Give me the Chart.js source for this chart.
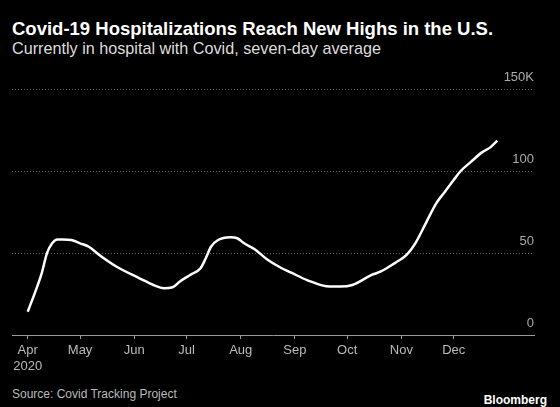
<!DOCTYPE html>
<html>
<head>
<meta charset="utf-8">
<script src="https://cdn.jsdelivr.net/npm/chart.js@4"></script>
<style>
  html, body { margin: 0; padding: 0; background: #000; }
  #wrap { position: relative; width: 560px; height: 407px; background: #000; overflow: hidden; font-family: "Liberation Sans", sans-serif; }
  #title { position: absolute; left: 12px; top: 18px; color: #fff; font-weight: bold; font-size: 18.5px; white-space: nowrap; }
  #subtitle { position: absolute; left: 12px; top: 39px; color: #ddd; font-size: 16.2px; white-space: nowrap; }
  #source { position: absolute; left: 12px; top: 387px; color: #bbb; font-size: 12px; white-space: nowrap; }
  #logo { position: absolute; right: 13px; top: 393px; color: #fff; font-weight: bold; font-size: 12px; }
  #chartBox { position: absolute; left: 0; top: 60px; width: 560px; height: 320px; }
</style>
</head>
<body>
<div id="wrap">
  <div id="title">Covid-19 Hospitalizations Reach New Highs in the U.S.</div>
  <div id="subtitle">Currently in hospital with Covid, seven-day average</div>
  <div id="chartBox"><canvas id="line"></canvas></div>
  <div id="source">Source: Covid Tracking Project</div>
  <div id="logo">Bloomberg</div>
</div>
<script>
// days counted from Apr 1, 2020
const days = [0, 4, 8, 11, 14, 17, 20, 25, 30, 35, 41, 51, 64, 72, 78, 83, 87, 93, 99, 102, 105, 109, 116, 120, 124, 130, 137, 145, 151, 160, 173, 179, 186, 197, 202, 210, 217, 222, 228, 234, 239, 244, 248, 254, 260, 265, 269];
// currently hospitalized, thousands
const hospitalized = [14.2, 25.4, 37.6, 49.8, 55.9, 58.3, 58.3, 57.9, 55.9, 53.8, 48.8, 41.6, 34.6, 30.5, 28.5, 29.1, 32.5, 36.6, 40.7, 46.8, 53.8, 57.9, 59.6, 59, 55.9, 52.3, 46.2, 41, 38, 33.5, 29.5, 29.5, 30.5, 36.6, 38.6, 43.7, 48.8, 55.9, 68.1, 80.3, 87.4, 94.5, 100, 105.7, 111.2, 114.4, 118.5];

const monthStarts = [0, 30, 61, 91, 122, 153, 183, 214, 244];
const monthLabels = ["Apr", "May", "Jun", "Jul", "Aug", "Sep", "Oct", "Nov", "Dec"];
const yTicks = [0, 50, 100, 150];

const points = days.map((d, i) => ({ x: d, y: hospitalized[i] }));

const ctx = document.getElementById("line");
var myChart = new Chart(ctx, {
  type: "line",
  data: {
    datasets: [
      {
        data: points,
        borderColor: "#fff",
        borderWidth: 2.5,
        pointRadius: 0,
        cubicInterpolationMode: "monotone",
      },
    ],
  },
  options: {
    responsive: true,
    maintainAspectRatio: false,
    animation: false,
    layout: { padding: { left: 12, right: 26, top: 29, bottom: 0 } },
    plugins: { legend: { display: false }, tooltip: { enabled: false } },
    scales: {
      x: {
        type: "linear",
        min: -9,
        max: 290,
        afterBuildTicks: (s) => { s.ticks = monthStarts.map(v => ({ value: v })); },
        afterFit: (s) => { s.height = 45; },
        ticks: {
          autoSkip: false,
          maxRotation: 0,
          color: "#bbb",
          padding: 4,
          font: { family: "Liberation Sans", size: 13 },
          callback: (v) => {
            const i = monthStarts.indexOf(v);
            if (i === 0) return [monthLabels[0], "2020"];
            return monthLabels[i];
          },
        },
        grid: { drawOnChartArea: false, tickLength: 4, color: "#999" },
        border: { display: true, color: "#999", width: 1 },
      },
      y: {
        position: "right",
        min: 0,
        max: 150,
        afterBuildTicks: (s) => { s.ticks = yTicks.map(v => ({ value: v })); },
        afterFit: (s) => { s.width = 0; },
        ticks: {
          mirror: true,
          padding: 0,
          labelOffset: -12,
          color: "#aaa",
          font: { family: "Liberation Sans", size: 13 },
          callback: (v) => (v === 150 ? "150K" : v),
        },
        grid: {
          drawTicks: false,
          lineWidth: 1,
          color: (c) => (c.tick && c.tick.value === 0 ? "rgba(0,0,0,0)" : "#666"),
        },
        border: { display: false, dash: [1, 2] },
      },
    },
  },
});
</script>
</body>
</html>
